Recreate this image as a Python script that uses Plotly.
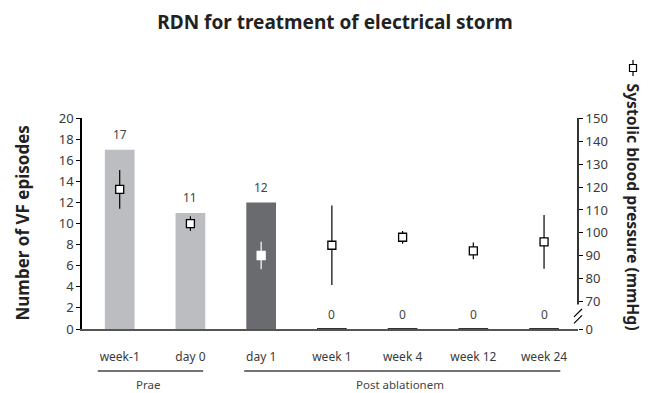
import plotly.graph_objects as go

categories = ["week-1", "day 0", "day 1", "week 1", "week 4", "week 12", "week 24"]
vf_episodes = [17, 11, 12, 0, 0, 0, 0]
bar_colors = ["#bcbdc0", "#bcbdc0", "#6a6b6f", "#333333", "#333333", "#333333", "#333333"]
sbp_mean = [119, 104, 90, 94.5, 98, 92, 96]
sbp_err = [8.5, 3.2, 6, 17.5, 2.8, 3.7, 11.8]

FONT = "Noto Sans"
TXT = "#3a3a3a"
xi = list(range(len(categories)))

fig = go.Figure()
fig.add_trace(go.Bar(
    x=xi, y=vf_episodes, width=0.42,
    marker=dict(color=bar_colors, line=dict(color=bar_colors, width=[0, 0, 0, 2, 2, 2, 2])),
    showlegend=False, hoverinfo="skip",
))
edge = ["black", "black", "white", "black", "black", "black", "black"]
for i in xi:
    fig.add_trace(go.Scatter(
        x=[i], y=[sbp_mean[i]], yaxis="y2", mode="markers",
        marker=dict(symbol="square", size=8, color="white", line=dict(color=edge[i], width=1.3)),
        error_y=dict(type="data", array=[sbp_err[i]], visible=True, width=0,
                     color=edge[i], thickness=1.2),
        showlegend=False, hoverinfo="skip",
    ))

annotations = []
for i, v in enumerate(vf_episodes):
    annotations.append(dict(x=i, y=v, xref="x", yref="y", text=str(v), showarrow=False,
                            yanchor="middle", yshift=15, font=dict(family=FONT, size=12, color="#444")))

annotations += [
    dict(x=0.40, y=0, xref="x", yref="paper", yshift=-55, yanchor="middle", text="Prae", showarrow=False,
         font=dict(family=FONT, size=11.5, color="#444")),
    dict(x=3.97, y=0, xref="x", yref="paper", yshift=-55, yanchor="middle", text="Post ablationem",
         showarrow=False, font=dict(family=FONT, size=11.5, color="#444")),
    dict(x=1, y=0.5, xref="paper", yref="paper", xshift=55, yshift=17, xanchor="center", yanchor="middle",
         text="<b>Systolic blood pressure (mmHg)</b>",
         textangle=90, showarrow=False, font=dict(family=FONT, size=15.7, color="#222")),
    dict(x=0, y=0.5, xref="paper", yref="paper", xshift=-60, yshift=0, xanchor="center", yanchor="middle",
         text="<b>Number of VF episodes</b>",
         textangle=-90, showarrow=False, font=dict(family=FONT, size=17, color="#222")),
]

shapes = [
    dict(type="line", xref="x", yref="paper", x0=-0.31, x1=1.18, y0=-42, y1=-42,
         ysizemode="pixel", yanchor=0, line=dict(color="#444", width=1.5)),
    dict(type="line", xref="x", yref="paper", x0=1.76, x1=6.23, y0=-42, y1=-42,
         ysizemode="pixel", yanchor=0, line=dict(color="#444", width=1.5)),
    dict(type="line", xref="paper", yref="y2", x0=1, x1=1, y0=68.5, y1=150.4,
         line=dict(color="black", width=1.6)),
    dict(type="line", xref="paper", yref="y2", xsizemode="pixel", xanchor=1,
         x0=-4, x1=4, y0=63.0, y1=66.5, line=dict(color="black", width=1.2)),
    dict(type="line", xref="paper", yref="y2", xsizemode="pixel", xanchor=1,
         x0=-4, x1=4, y0=60.2, y1=63.7, line=dict(color="black", width=1.2)),
    dict(type="line", xref="paper", yref="paper", xsizemode="pixel", xanchor=1,
         ysizemode="pixel", yanchor=1, x0=55, x1=55, y0=42, y1=58, line=dict(color="black", width=1.2)),
    dict(type="rect", xref="paper", yref="paper", xsizemode="pixel", xanchor=1,
         ysizemode="pixel", yanchor=1, x0=51.5, x1=58.5, y0=46.5, y1=53.5,
         fillcolor="white", line=dict(color="black", width=1.2)),
]

fig.update_layout(
    width=657, height=393,
    margin=dict(l=82, r=79, t=118, b=64, autoexpand=False),
    paper_bgcolor="white", plot_bgcolor="white",
    title=dict(text="<b>RDN for treatment of electrical storm</b>", x=335 / 657, xanchor="center",
               y=1 - 22 / 393, yanchor="middle", font=dict(family=FONT, size=19, color="#222")),
    xaxis=dict(range=[-0.533, 6.48], tickvals=xi, ticktext=categories, showgrid=False, automargin=False,
               showline=True, linecolor="#555", linewidth=1.5, ticks="", ticklabelstandoff=16,
               tickfont=dict(family=FONT, size=12, color=TXT), zeroline=False, fixedrange=True),
    yaxis=dict(range=[0, 20], dtick=2, showgrid=False, showline=True, linecolor="black", linewidth=1.6,
               ticks="outside", ticklen=4, tickcolor="black", tickwidth=1, automargin=False,
               tickfont=dict(family=FONT, size=13, color=TXT), zeroline=False),
    yaxis2=dict(overlaying="y", side="right", range=[57.7, 150.4], automargin=False,
                tickvals=[57.7, 70, 80, 90, 100, 110, 120, 130, 140, 150],
                ticktext=["0", "70", "80", "90", "100", "110", "120", "130", "140", "150"],
                showgrid=False, showline=False, zeroline=False, ticks="outside", ticklen=4,
                tickcolor="black", tickwidth=1, tickfont=dict(family=FONT, size=13, color=TXT)),
    annotations=annotations, shapes=shapes,
)
fig.write_html("out.html", config={"displayModeBar": False},
               post_script="document.body.style.margin='0';document.body.style.padding='0';")
